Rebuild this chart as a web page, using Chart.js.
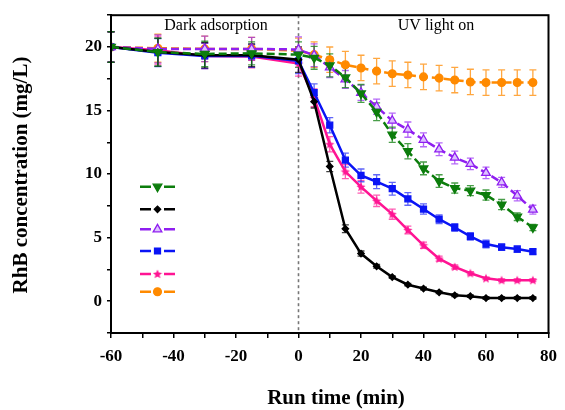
<!DOCTYPE html>
<html><head><meta charset="utf-8">
<script src="https://cdn.jsdelivr.net/npm/chart.js@4.4.1/dist/chart.umd.min.js"></script>
<style>html,body{margin:0;padding:0;background:#fff}</style>
</head><body>
<canvas id="c" width="565" height="410" style="width:565px;height:410px;display:block"></canvas>
<script>
// ---- data ----
const times = [-60,-45,-30,-15,0,5,10,15,20,25,30,35,40,45,50,55,60,65,70,75];
const xTickLabels = [-60,-40,-20,0,20,40,60,80];
const yTickLabels = [0,5,10,15,20];

const greenVals  = [20,19.6,19.45,19.5,19.4,19.15,18.55,17.6,16.35,14.9,13.1,11.8,10.45,9.45,8.9,8.7,8.35,7.6,6.65,5.8];
const blackVals  = [20,19.6,19.35,19.35,19.0,15.7,10.6,5.7,3.75,2.75,1.9,1.3,1.0,0.7,0.47,0.4,0.25,0.25,0.25,0.25];
const purpleVals = [20,19.85,19.85,19.85,19.8,19.35,18.4,17.45,16.4,15.3,14.2,13.5,12.7,11.95,11.3,10.8,10.1,9.35,8.3,7.2];
const blueVals   = [20,19.55,19.3,19.3,18.9,16.4,13.85,11.1,9.9,9.4,8.85,8.05,7.25,6.45,5.8,5.1,4.5,4.25,4.1,3.9];
const pinkVals   = [20,19.75,19.3,19.25,18.7,16.0,12.35,10.2,9.0,7.9,6.85,5.6,4.4,3.35,2.7,2.2,1.8,1.65,1.65,1.65];
const orangeVals = [20,19.9,19.85,19.85,19.7,19.4,19.0,18.6,18.35,18.1,17.9,17.8,17.65,17.55,17.4,17.25,17.2,17.2,17.2,17.2];

const greenErr  = [1.2,1.1,1.0,0.9,1.0,0.9,0.9,0.8,0.7,0.7,0.6,0.6,0.5,0.5,0.4,0.4,0.4,0.4,0.3,0.25];
const blackErr  = [1.2,1.1,1.0,0.9,1.0,0.5,0.4,0.3,0.2,0.15,0.1,0.1,0.1,0.1,0.1,0.1,0.1,0.1,0.1,0.1];
const purpleErr = [1.2,1.1,1.0,0.9,1.0,0.9,0.8,0.7,0.6,0.6,0.6,0.6,0.55,0.5,0.5,0.45,0.45,0.4,0.4,0.35];
const blueErr   = [1.2,1.1,1.0,0.9,1.0,0.7,0.6,0.55,0.5,0.55,0.5,0.5,0.4,0.35,0.3,0.3,0.3,0.25,0.25,0.2];
const pinkErr   = [1.2,1.1,1.0,0.9,1.0,0.7,0.6,0.55,0.5,0.45,0.4,0.3,0.25,0.2,0.15,0.12,0.1,0.1,0.1,0.1];
const orangeErr = [1.2,1.1,1.0,0.9,1.0,1.0,1.0,1.05,1.0,1.0,1.0,1.0,1.0,1.0,1.0,1.0,1.0,1.0,1.0,1.0];

// ---- marker for pink series (small filled star) ----
function makeStar(color){
  const c = document.createElement('canvas'); c.width = 10; c.height = 10;
  const g = c.getContext('2d'); g.fillStyle = color; g.beginPath();
  for (let k = 0; k < 10; k++) {
    const r = k % 2 === 0 ? 4.8 : 2.2, a = -Math.PI/2 + k*Math.PI/5;
    const px = 5 + r*Math.cos(a), py = 5.4 + r*Math.sin(a);
    k === 0 ? g.moveTo(px, py) : g.lineTo(px, py);
  }
  g.closePath(); g.fill(); return c;
}
const pinkStar = makeStar('#ff1493');

const pts = v => times.map((t, i) => ({x: t, y: v[i]}));
const series = [
  {vals: greenVals,  err: greenErr,  color:'#0c7d0c', errColor:'rgba(12,125,12,0.75)', dash:[8,4], style:'triangle', rot:180, r:5, fill:'#0c7d0c'},
  {vals: blackVals,  err: blackErr,  color:'#000000', errColor:'rgba(0,0,0,0.75)', dash:[], style:'rectRot', rot:0, r:3.2, fill:'#000'},
  {vals: purpleVals, err: purpleErr, color:'#8f1ff0', errColor:'rgba(150,40,245,0.7)', dash:[8,4], style:'triangle', rot:0, r:5, fill:'#dcc0ff'},
  {vals: blueVals,   err: blueErr,   color:'#0a14f5', errColor:'rgba(10,20,245,0.65)', dash:[], style:'rect', rot:0, r:4.2, fill:'#0a14f5'},
  {vals: pinkVals,   err: pinkErr,   color:'#ff1493', errColor:'rgba(255,20,147,0.7)', dash:[], style:pinkStar, rot:0, r:5, fill:'#ff1493'},
  {vals: orangeVals, err: orangeErr, color:'#ff8a00', errColor:'rgba(255,138,0,0.75)', dash:[8,4], style:'circle', rot:0, r:3.9, fill:'#ff8a00'}
];

const datasets = series.map(s => ({
  data: pts(s.vals),
  borderColor: s.color, backgroundColor: s.fill,
  borderWidth: 2.5, borderDash: s.dash,
  pointStyle: s.style, pointRotation: s.rot, pointRadius: s.r,
  pointBorderColor: s.color, pointBackgroundColor: s.fill, pointBorderWidth: 1.3,
  tension: 0, fill: false
}));

const serif = '"Liberation Serif", "Times New Roman", serif';

const decor = {
  id: 'decor',
  beforeDatasetsDraw(chart) {
    const {ctx, chartArea: a, scales: {x, y}} = chart;
    ctx.save();
    // vertical dashed line at t = 0
    ctx.strokeStyle = '#777'; ctx.lineWidth = 1.6; ctx.setLineDash([3,3]);
    const x0 = x.getPixelForValue(0);
    ctx.beginPath(); ctx.moveTo(x0, a.top); ctx.lineTo(x0, a.bottom); ctx.stroke();
    ctx.setLineDash([]);
    // error bars
    for (let i = series.length - 1; i >= 0; i--) {
      const s = series[i];
      ctx.strokeStyle = s.errColor; ctx.lineWidth = 1.3;
      times.forEach((t, j) => {
        const px = x.getPixelForValue(t);
        const yt = y.getPixelForValue(s.vals[j] + s.err[j]);
        const yb = y.getPixelForValue(s.vals[j] - s.err[j]);
        ctx.beginPath();
        ctx.moveTo(px, yt); ctx.lineTo(px, yb);
        ctx.moveTo(px - 3.5, yt); ctx.lineTo(px + 3.5, yt);
        ctx.moveTo(px - 3.5, yb); ctx.lineTo(px + 3.5, yb);
        ctx.stroke();
      });
    }
    ctx.restore();
  },
  afterDraw(chart) {
    const {ctx, chartArea: a} = chart;
    ctx.save();
    // frame
    ctx.strokeStyle = '#000'; ctx.lineWidth = 2;
    ctx.strokeRect(a.left, a.top, a.right - a.left, a.bottom - a.top);
    // annotations
    ctx.fillStyle = '#000'; ctx.textAlign = 'center'; ctx.textBaseline = 'middle';
    ctx.font = '16px ' + serif;
    ctx.fillText('Dark adsorption', 216, 26);
    ctx.fillText('UV light on', 436, 26);
    // axis titles
    ctx.font = 'bold 21px ' + serif;
    ctx.fillText('Run time (min)', 336, 399);
    ctx.save();
    ctx.translate(22, 175); ctx.rotate(-Math.PI/2);
    ctx.fillText('RhB concentration (mg/L)', 0, 0);
    ctx.restore();
    // legend (symbols only, no labels)
    const ly = [186.7, 209.3, 229.3, 251, 274, 291.7];
    series.forEach((s, i) => {
      const yy = ly[i];
      ctx.strokeStyle = s.color; ctx.lineWidth = 2.5; ctx.setLineDash([]);
      ctx.beginPath();
      ctx.moveTo(140, yy); ctx.lineTo(151, yy);
      ctx.moveTo(164, yy); ctx.lineTo(175, yy);
      ctx.stroke();
      ctx.fillStyle = s.fill; ctx.strokeStyle = s.color; ctx.lineWidth = 1.3;
      Chart.helpers.drawPoint(ctx, {pointStyle: s.style, rotation: s.rot, radius: s.r, borderWidth: 1.3}, 157.5, yy);
    });
    ctx.restore();
  }
};

new Chart(document.getElementById('c'), {
  type: 'line',
  data: { datasets },
  options: {
    responsive: false, animation: false,
    layout: { padding: { top: 15, right: 10, left: 0, bottom: 0 } },
    plugins: { legend: { display: false }, tooltip: { enabled: false } },
    scales: {
      x: {
        type: 'linear', min: -60, max: 80,
        afterFit: s => { s.height = 77; },
        border: { color: '#000', width: 2 },
        grid: { drawOnChartArea: false, color: '#000', tickLength: 5, lineWidth: 1.5 },
        ticks: {
          stepSize: 10, autoSkip: false, maxRotation: 0, padding: 8, color: '#000',
          font: { family: serif, weight: 'bold', size: 17 },
          callback: v => xTickLabels.includes(v) ? String(v) : ''
        }
      },
      y: {
        type: 'linear', min: -2.5, max: 22.5,
        afterFit: s => { s.width = 111; },
        border: { color: '#000', width: 2 },
        grid: { drawOnChartArea: false, color: '#000', tickLength: 4, lineWidth: 1.5 },
        ticks: {
          stepSize: 2.5, autoSkip: false, padding: 5, color: '#000',
          font: { family: serif, weight: 'bold', size: 17 },
          callback: v => yTickLabels.includes(v) ? String(v) : ''
        }
      }
    }
  },
  plugins: [decor]
});
</script>
</body></html>
